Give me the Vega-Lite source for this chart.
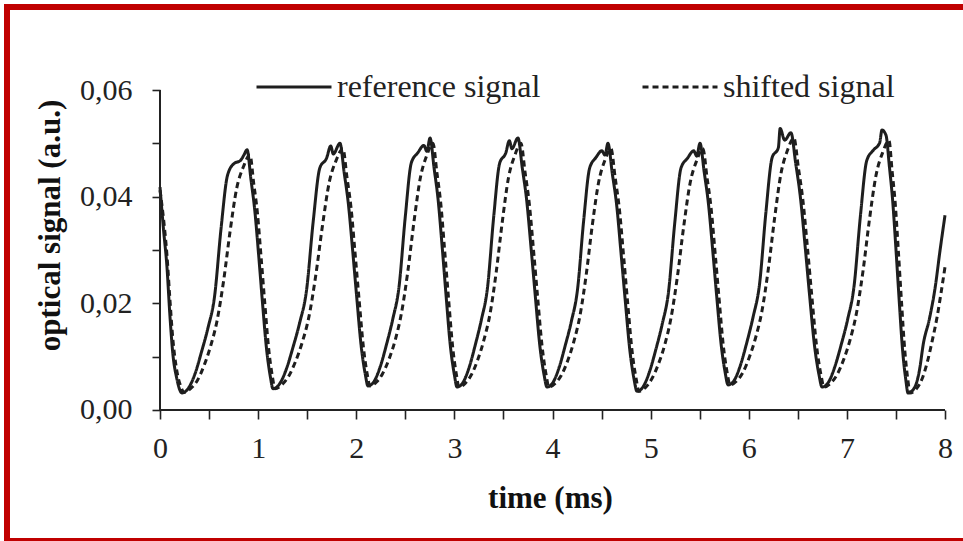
{
  "$schema": "https://vega.github.io/schema/vega-lite/v6.json",
  "width": 956,
  "height": 534,
  "autosize": {"type": "none"},
  "padding": {"left": 7, "top": 7, "right": 0, "bottom": 0},
  "background": "white",
  "view": {"stroke": "#C00000", "strokeWidth": 6, "strokeDash": [959, 531, 1500], "strokeCap": "butt"},
  "config": {
    "font": "Liberation Serif",
    "axis": {
      "grid": false,
      "domain": false,
      "tickColor": "#222",
      "tickWidth": 1.6,
      "labelFont": "Liberation Serif",
      "labelFontSize": 30,
      "labelColor": "#222",
      "titleFont": "Liberation Serif",
      "titleFontSize": 31,
      "titleFontWeight": "bold",
      "titleColor": "#111",
      "labelOverlap": false,
      "labelFlush": false
    }
  },
  "layer": [
    {
      "data": {"values": [
        {"t":0,"v":0.0418,"s":"reference signal"},{"t":0.035,"v":0.034,"s":"reference signal"},{"t":0.071,"v":0.0268,"s":"reference signal"},{"t":0.10,"v":0.018,"s":"reference signal"},{"t":0.13,"v":0.0107,"s":"reference signal"},{"t":0.17,"v":0.0060,"s":"reference signal"},
        {"t":0.224,"v":0.0032,"s":"reference signal"},{"t":0.290,"v":0.0041,"s":"reference signal"},{"t":0.357,"v":0.0068,"s":"reference signal"},{"t":0.423,"v":0.0109,"s":"reference signal"},{"t":0.489,"v":0.0154,"s":"reference signal"},{"t":0.556,"v":0.0213,"s":"reference signal"},{"t":0.622,"v":0.0340,"s":"reference signal"},{"t":0.688,"v":0.0440,"s":"reference signal"},{"t":0.754,"v":0.0462,"s":"reference signal"},{"t":0.821,"v":0.0468,"s":"reference signal"},{"t":0.855,"v":0.0478,"s":"reference signal"},{"t":0.887,"v":0.0488,"s":"reference signal"},
        {"t":0.927,"v":0.0432,"s":"reference signal"},{"t":0.966,"v":0.0374,"s":"reference signal"},{"t":1.006,"v":0.0289,"s":"reference signal"},{"t":1.045,"v":0.0200,"s":"reference signal"},{"t":1.085,"v":0.0116,"s":"reference signal"},{"t":1.125,"v":0.0062,"s":"reference signal"},{"t":1.151,"v":0.0040,"s":"reference signal"},
        {"t":1.219,"v":0.0049,"s":"reference signal"},{"t":1.288,"v":0.0077,"s":"reference signal"},{"t":1.356,"v":0.0118,"s":"reference signal"},{"t":1.424,"v":0.0164,"s":"reference signal"},{"t":1.493,"v":0.0224,"s":"reference signal"},{"t":1.561,"v":0.0353,"s":"reference signal"},{"t":1.629,"v":0.0454,"s":"reference signal"},{"t":1.697,"v":0.0472,"s":"reference signal"},{"t":1.740,"v":0.0495,"s":"reference signal"},{"t":1.766,"v":0.0480,"s":"reference signal"},{"t":1.834,"v":0.0500,"s":"reference signal"},
        {"t":1.877,"v":0.0445,"s":"reference signal"},{"t":1.920,"v":0.0386,"s":"reference signal"},{"t":1.963,"v":0.0300,"s":"reference signal"},{"t":2.006,"v":0.0209,"s":"reference signal"},{"t":2.049,"v":0.0122,"s":"reference signal"},{"t":2.091,"v":0.0068,"s":"reference signal"},{"t":2.120,"v":0.0045,"s":"reference signal"},
        {"t":2.183,"v":0.0054,"s":"reference signal"},{"t":2.246,"v":0.0082,"s":"reference signal"},{"t":2.310,"v":0.0124,"s":"reference signal"},{"t":2.373,"v":0.0171,"s":"reference signal"},{"t":2.436,"v":0.0231,"s":"reference signal"},{"t":2.499,"v":0.0361,"s":"reference signal"},{"t":2.562,"v":0.0464,"s":"reference signal"},{"t":2.626,"v":0.0482,"s":"reference signal"},{"t":2.689,"v":0.0496,"s":"reference signal"},{"t":2.720,"v":0.0485,"s":"reference signal"},{"t":2.752,"v":0.0510,"s":"reference signal"},
        {"t":2.793,"v":0.0454,"s":"reference signal"},{"t":2.835,"v":0.0393,"s":"reference signal"},{"t":2.876,"v":0.0305,"s":"reference signal"},{"t":2.917,"v":0.0211,"s":"reference signal"},{"t":2.958,"v":0.0122,"s":"reference signal"},{"t":3.000,"v":0.0066,"s":"reference signal"},{"t":3.027,"v":0.0043,"s":"reference signal"},
        {"t":3.089,"v":0.0052,"s":"reference signal"},{"t":3.151,"v":0.0080,"s":"reference signal"},{"t":3.213,"v":0.0122,"s":"reference signal"},{"t":3.275,"v":0.0169,"s":"reference signal"},{"t":3.338,"v":0.0230,"s":"reference signal"},{"t":3.400,"v":0.0361,"s":"reference signal"},{"t":3.462,"v":0.0463,"s":"reference signal"},{"t":3.524,"v":0.0482,"s":"reference signal"},{"t":3.560,"v":0.0505,"s":"reference signal"},{"t":3.586,"v":0.0490,"s":"reference signal"},{"t":3.648,"v":0.0510,"s":"reference signal"},
        {"t":3.692,"v":0.0454,"s":"reference signal"},{"t":3.737,"v":0.0393,"s":"reference signal"},{"t":3.781,"v":0.0305,"s":"reference signal"},{"t":3.826,"v":0.0211,"s":"reference signal"},{"t":3.870,"v":0.0122,"s":"reference signal"},{"t":3.914,"v":0.0066,"s":"reference signal"},{"t":3.944,"v":0.0043,"s":"reference signal"},
        {"t":4.006,"v":0.0052,"s":"reference signal"},{"t":4.068,"v":0.0080,"s":"reference signal"},{"t":4.130,"v":0.0121,"s":"reference signal"},{"t":4.192,"v":0.0166,"s":"reference signal"},{"t":4.255,"v":0.0226,"s":"reference signal"},{"t":4.317,"v":0.0354,"s":"reference signal"},{"t":4.379,"v":0.0454,"s":"reference signal"},{"t":4.441,"v":0.0473,"s":"reference signal"},{"t":4.503,"v":0.0486,"s":"reference signal"},{"t":4.535,"v":0.0478,"s":"reference signal"},{"t":4.565,"v":0.0500,"s":"reference signal"},
        {"t":4.609,"v":0.0444,"s":"reference signal"},{"t":4.654,"v":0.0384,"s":"reference signal"},{"t":4.698,"v":0.0295,"s":"reference signal"},{"t":4.743,"v":0.0202,"s":"reference signal"},{"t":4.787,"v":0.0114,"s":"reference signal"},{"t":4.831,"v":0.0058,"s":"reference signal"},{"t":4.861,"v":0.0035,"s":"reference signal"},
        {"t":4.925,"v":0.0044,"s":"reference signal"},{"t":4.989,"v":0.0072,"s":"reference signal"},{"t":5.054,"v":0.0114,"s":"reference signal"},{"t":5.118,"v":0.0161,"s":"reference signal"},{"t":5.182,"v":0.0221,"s":"reference signal"},{"t":5.246,"v":0.0351,"s":"reference signal"},{"t":5.310,"v":0.0454,"s":"reference signal"},{"t":5.375,"v":0.0472,"s":"reference signal"},{"t":5.439,"v":0.0486,"s":"reference signal"},{"t":5.470,"v":0.0476,"s":"reference signal"},{"t":5.503,"v":0.0500,"s":"reference signal"},
        {"t":5.546,"v":0.0446,"s":"reference signal"},{"t":5.589,"v":0.0387,"s":"reference signal"},{"t":5.632,"v":0.0301,"s":"reference signal"},{"t":5.675,"v":0.0210,"s":"reference signal"},{"t":5.718,"v":0.0124,"s":"reference signal"},{"t":5.760,"v":0.0070,"s":"reference signal"},{"t":5.789,"v":0.0047,"s":"reference signal"},
        {"t":5.853,"v":0.0056,"s":"reference signal"},{"t":5.917,"v":0.0085,"s":"reference signal"},{"t":5.981,"v":0.0127,"s":"reference signal"},{"t":6.045,"v":0.0175,"s":"reference signal"},{"t":6.110,"v":0.0236,"s":"reference signal"},{"t":6.174,"v":0.0369,"s":"reference signal"},{"t":6.238,"v":0.0473,"s":"reference signal"},{"t":6.302,"v":0.0492,"s":"reference signal"},{"t":6.320,"v":0.0528,"s":"reference signal"},{"t":6.366,"v":0.0506,"s":"reference signal"},{"t":6.430,"v":0.0520,"s":"reference signal"},
        {"t":6.478,"v":0.0463,"s":"reference signal"},{"t":6.525,"v":0.0401,"s":"reference signal"},{"t":6.573,"v":0.0310,"s":"reference signal"},{"t":6.620,"v":0.0215,"s":"reference signal"},{"t":6.668,"v":0.0124,"s":"reference signal"},{"t":6.715,"v":0.0067,"s":"reference signal"},{"t":6.747,"v":0.0043,"s":"reference signal"},
        {"t":6.812,"v":0.0052,"s":"reference signal"},{"t":6.877,"v":0.0081,"s":"reference signal"},{"t":6.943,"v":0.0123,"s":"reference signal"},{"t":7.008,"v":0.0170,"s":"reference signal"},{"t":7.073,"v":0.0232,"s":"reference signal"},{"t":7.138,"v":0.0364,"s":"reference signal"},{"t":7.203,"v":0.0468,"s":"reference signal"},{"t":7.269,"v":0.0487,"s":"reference signal"},{"t":7.334,"v":0.0501,"s":"reference signal"},{"t":7.358,"v":0.0525,"s":"reference signal"},{"t":7.399,"v":0.0515,"s":"reference signal"},
        {"t":7.433,"v":0.0457,"s":"reference signal"},{"t":7.466,"v":0.0394,"s":"reference signal"},{"t":7.500,"v":0.0302,"s":"reference signal"},{"t":7.533,"v":0.0206,"s":"reference signal"},{"t":7.567,"v":0.0114,"s":"reference signal"},{"t":7.601,"v":0.0056,"s":"reference signal"},{"t":7.623,"v":0.0032,"s":"reference signal"},
        {"t":7.69,"v":0.0042,"s":"reference signal"},{"t":7.74,"v":0.0075,"s":"reference signal"},{"t":7.78,"v":0.0125,"s":"reference signal"},{"t":7.84,"v":0.0170,"s":"reference signal"},{"t":7.90,"v":0.0230,"s":"reference signal"},{"t":7.95,"v":0.0300,"s":"reference signal"},{"t":8.0,"v":0.0365,"s":"reference signal"},

        {"t":0,"v":0.0412,"s":"shifted signal"},{"t":0.035,"v":0.0360,"s":"shifted signal"},{"t":0.071,"v":0.0290,"s":"shifted signal"},{"t":0.10,"v":0.0210,"s":"shifted signal"},{"t":0.13,"v":0.0135,"s":"shifted signal"},{"t":0.17,"v":0.0075,"s":"shifted signal"},{"t":0.21,"v":0.0045,"s":"shifted signal"},
        {"t":0.244,"v":0.0033,"s":"shifted signal"},{"t":0.311,"v":0.0040,"s":"shifted signal"},{"t":0.379,"v":0.0055,"s":"shifted signal"},{"t":0.446,"v":0.0082,"s":"shifted signal"},{"t":0.513,"v":0.0118,"s":"shifted signal"},{"t":0.581,"v":0.0167,"s":"shifted signal"},{"t":0.648,"v":0.0242,"s":"shifted signal"},{"t":0.715,"v":0.0336,"s":"shifted signal"},{"t":0.782,"v":0.0416,"s":"shifted signal"},{"t":0.850,"v":0.0456,"s":"shifted signal"},{"t":0.917,"v":0.0478,"s":"shifted signal"},
        {"t":0.955,"v":0.0425,"s":"shifted signal"},{"t":0.993,"v":0.0369,"s":"shifted signal"},{"t":1.031,"v":0.0285,"s":"shifted signal"},{"t":1.069,"v":0.0198,"s":"shifted signal"},{"t":1.108,"v":0.0114,"s":"shifted signal"},{"t":1.146,"v":0.0062,"s":"shifted signal"},{"t":1.171,"v":0.0040,"s":"shifted signal"},
        {"t":1.240,"v":0.0047,"s":"shifted signal"},{"t":1.310,"v":0.0063,"s":"shifted signal"},{"t":1.379,"v":0.0090,"s":"shifted signal"},{"t":1.448,"v":0.0126,"s":"shifted signal"},{"t":1.518,"v":0.0175,"s":"shifted signal"},{"t":1.587,"v":0.0252,"s":"shifted signal"},{"t":1.656,"v":0.0346,"s":"shifted signal"},{"t":1.725,"v":0.0427,"s":"shifted signal"},{"t":1.795,"v":0.0468,"s":"shifted signal"},{"t":1.864,"v":0.0490,"s":"shifted signal"},
        {"t":1.905,"v":0.0437,"s":"shifted signal"},{"t":1.947,"v":0.0379,"s":"shifted signal"},{"t":1.988,"v":0.0294,"s":"shifted signal"},{"t":2.030,"v":0.0205,"s":"shifted signal"},{"t":2.071,"v":0.0121,"s":"shifted signal"},{"t":2.112,"v":0.0067,"s":"shifted signal"},{"t":2.140,"v":0.0045,"s":"shifted signal"},
        {"t":2.204,"v":0.0052,"s":"shifted signal"},{"t":2.268,"v":0.0068,"s":"shifted signal"},{"t":2.333,"v":0.0095,"s":"shifted signal"},{"t":2.397,"v":0.0131,"s":"shifted signal"},{"t":2.461,"v":0.0182,"s":"shifted signal"},{"t":2.525,"v":0.0259,"s":"shifted signal"},{"t":2.589,"v":0.0354,"s":"shifted signal"},{"t":2.654,"v":0.0436,"s":"shifted signal"},{"t":2.718,"v":0.0477,"s":"shifted signal"},{"t":2.782,"v":0.0500,"s":"shifted signal"},
        {"t":2.822,"v":0.0445,"s":"shifted signal"},{"t":2.862,"v":0.0386,"s":"shifted signal"},{"t":2.901,"v":0.0299,"s":"shifted signal"},{"t":2.941,"v":0.0208,"s":"shifted signal"},{"t":2.981,"v":0.0121,"s":"shifted signal"},{"t":3.021,"v":0.0066,"s":"shifted signal"},{"t":3.047,"v":0.0043,"s":"shifted signal"},
        {"t":3.110,"v":0.0050,"s":"shifted signal"},{"t":3.173,"v":0.0066,"s":"shifted signal"},{"t":3.236,"v":0.0093,"s":"shifted signal"},{"t":3.299,"v":0.0130,"s":"shifted signal"},{"t":3.363,"v":0.0180,"s":"shifted signal"},{"t":3.426,"v":0.0258,"s":"shifted signal"},{"t":3.489,"v":0.0354,"s":"shifted signal"},{"t":3.552,"v":0.0436,"s":"shifted signal"},{"t":3.615,"v":0.0477,"s":"shifted signal"},{"t":3.678,"v":0.0500,"s":"shifted signal"},
        {"t":3.721,"v":0.0445,"s":"shifted signal"},{"t":3.764,"v":0.0386,"s":"shifted signal"},{"t":3.807,"v":0.0299,"s":"shifted signal"},{"t":3.850,"v":0.0208,"s":"shifted signal"},{"t":3.893,"v":0.0121,"s":"shifted signal"},{"t":3.935,"v":0.0066,"s":"shifted signal"},{"t":3.964,"v":0.0043,"s":"shifted signal"},
        {"t":4.027,"v":0.0050,"s":"shifted signal"},{"t":4.090,"v":0.0065,"s":"shifted signal"},{"t":4.154,"v":0.0092,"s":"shifted signal"},{"t":4.217,"v":0.0128,"s":"shifted signal"},{"t":4.280,"v":0.0177,"s":"shifted signal"},{"t":4.343,"v":0.0253,"s":"shifted signal"},{"t":4.406,"v":0.0347,"s":"shifted signal"},{"t":4.470,"v":0.0427,"s":"shifted signal"},{"t":4.533,"v":0.0468,"s":"shifted signal"},{"t":4.596,"v":0.0490,"s":"shifted signal"},
        {"t":4.639,"v":0.0435,"s":"shifted signal"},{"t":4.682,"v":0.0376,"s":"shifted signal"},{"t":4.724,"v":0.0290,"s":"shifted signal"},{"t":4.767,"v":0.0199,"s":"shifted signal"},{"t":4.810,"v":0.0112,"s":"shifted signal"},{"t":4.853,"v":0.0058,"s":"shifted signal"},{"t":4.881,"v":0.0035,"s":"shifted signal"},
        {"t":4.946,"v":0.0042,"s":"shifted signal"},{"t":5.011,"v":0.0058,"s":"shifted signal"},{"t":5.077,"v":0.0085,"s":"shifted signal"},{"t":5.142,"v":0.0121,"s":"shifted signal"},{"t":5.207,"v":0.0172,"s":"shifted signal"},{"t":5.272,"v":0.0249,"s":"shifted signal"},{"t":5.337,"v":0.0344,"s":"shifted signal"},{"t":5.403,"v":0.0426,"s":"shifted signal"},{"t":5.468,"v":0.0467,"s":"shifted signal"},{"t":5.533,"v":0.0490,"s":"shifted signal"},
        {"t":5.574,"v":0.0437,"s":"shifted signal"},{"t":5.616,"v":0.0379,"s":"shifted signal"},{"t":5.657,"v":0.0295,"s":"shifted signal"},{"t":5.699,"v":0.0206,"s":"shifted signal"},{"t":5.740,"v":0.0122,"s":"shifted signal"},{"t":5.781,"v":0.0069,"s":"shifted signal"},{"t":5.809,"v":0.0047,"s":"shifted signal"},
        {"t":5.874,"v":0.0054,"s":"shifted signal"},{"t":5.939,"v":0.0070,"s":"shifted signal"},{"t":6.004,"v":0.0098,"s":"shifted signal"},{"t":6.069,"v":0.0135,"s":"shifted signal"},{"t":6.135,"v":0.0186,"s":"shifted signal"},{"t":6.200,"v":0.0265,"s":"shifted signal"},{"t":6.265,"v":0.0362,"s":"shifted signal"},{"t":6.330,"v":0.0445,"s":"shifted signal"},{"t":6.395,"v":0.0487,"s":"shifted signal"},{"t":6.460,"v":0.0510,"s":"shifted signal"},
        {"t":6.506,"v":0.0454,"s":"shifted signal"},{"t":6.552,"v":0.0393,"s":"shifted signal"},{"t":6.598,"v":0.0305,"s":"shifted signal"},{"t":6.644,"v":0.0211,"s":"shifted signal"},{"t":6.690,"v":0.0122,"s":"shifted signal"},{"t":6.736,"v":0.0066,"s":"shifted signal"},{"t":6.767,"v":0.0043,"s":"shifted signal"},
        {"t":6.833,"v":0.0050,"s":"shifted signal"},{"t":6.899,"v":0.0066,"s":"shifted signal"},{"t":6.966,"v":0.0094,"s":"shifted signal"},{"t":7.032,"v":0.0131,"s":"shifted signal"},{"t":7.098,"v":0.0182,"s":"shifted signal"},{"t":7.164,"v":0.0260,"s":"shifted signal"},{"t":7.230,"v":0.0357,"s":"shifted signal"},{"t":7.297,"v":0.0440,"s":"shifted signal"},{"t":7.363,"v":0.0482,"s":"shifted signal"},{"t":7.429,"v":0.0505,"s":"shifted signal"},
        {"t":7.461,"v":0.0448,"s":"shifted signal"},{"t":7.493,"v":0.0387,"s":"shifted signal"},{"t":7.525,"v":0.0297,"s":"shifted signal"},{"t":7.557,"v":0.0202,"s":"shifted signal"},{"t":7.590,"v":0.0112,"s":"shifted signal"},{"t":7.622,"v":0.0056,"s":"shifted signal"},{"t":7.643,"v":0.0032,"s":"shifted signal"},
        {"t":7.71,"v":0.0040,"s":"shifted signal"},{"t":7.77,"v":0.0060,"s":"shifted signal"},{"t":7.82,"v":0.0090,"s":"shifted signal"},{"t":7.87,"v":0.0130,"s":"shifted signal"},{"t":7.92,"v":0.0175,"s":"shifted signal"},{"t":7.96,"v":0.0220,"s":"shifted signal"},{"t":8.0,"v":0.0268,"s":"shifted signal"}
      ]},
      "mark": {"type": "line", "strokeWidth": 3, "color": "#1e1e1e", "interpolate": "monotone"},
      "encoding": {
        "x": {
          "field": "t", "type": "quantitative",
          "scale": {"domain": [-1.55924, 8.18344], "nice": false, "zero": false},
          "axis": {
            "title": "time (ms)",
            "values": [0, 0.5, 1, 1.5, 2, 2.5, 3, 3.5, 4, 4.5, 5, 5.5, 6, 6.5, 7, 7.5, 8],
            "labelExpr": "datum.value % 1 == 0 ? format(datum.value, 'd') : ''",
            "tickSize": 9,
            "labelPadding": 14,
            "offset": -131,
            "titleX": 543,
            "titleY": 88,
            "titleAlign": "center",
            "titleBaseline": "middle"
          }
        },
        "y": {
          "field": "v", "type": "quantitative",
          "scale": {"domain": [-0.024563, 0.075563], "nice": false, "zero": false},
          "axis": {
            "title": "optical signal (a.u.)",
            "values": [0, 0.01, 0.02, 0.03, 0.04, 0.05, 0.06],
            "labelExpr": "round(datum.value * 100) % 2 == 0 ? replace(format(datum.value, '.2f'), '.', ',') : ''",
            "tickSize": 8,
            "labelPadding": 20,
            "offset": -153,
            "titleX": -110,
            "titleY": 218,
            "titleAngle": -90,
            "titleAlign": "center",
            "titleBaseline": "middle"
          }
        },
        "strokeDash": {
          "field": "s", "type": "nominal",
          "scale": {"domain": ["reference signal", "shifted signal"], "range": [[1, 0], [6, 4]]},
          "legend": {
            "title": null,
            "orient": "none",
            "legendX": 248,
            "legendY": 41,
            "direction": "horizontal",
            "symbolType": "stroke",
            "symbolSize": 5625,
            "symbolStrokeWidth": 2.8,
            "symbolStrokeColor": "#1e1e1e",
            "labelFont": "Liberation Serif",
            "labelFontSize": 32,
            "labelColor": "#222",
            "labelLimit": 500,
            "labelOffset": 4,
            "columnPadding": 95,
            "padding": 0
          }
        }
      }
    },
    {
      "data": {"values": [
        {"x": 0, "x2": 8, "y": 0, "y2": 0},
        {"x": 0, "x2": 0, "y": 0, "y2": 0.06}
      ]},
      "mark": {"type": "rule", "color": "#222", "strokeWidth": 2},
      "encoding": {
        "x": {"field": "x", "type": "quantitative"},
        "x2": {"field": "x2"},
        "y": {"field": "y", "type": "quantitative"},
        "y2": {"field": "y2"}
      }
    }
  ]
}
